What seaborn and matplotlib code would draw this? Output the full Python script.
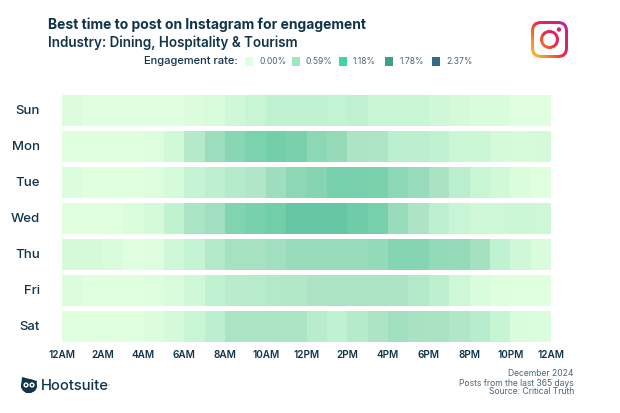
import numpy as np
import pandas as pd
import matplotlib
matplotlib.use("Agg")
import matplotlib.pyplot as plt
import seaborn as sns
from matplotlib.colors import LinearSegmentedColormap
from matplotlib.patches import Circle, Ellipse, FancyBboxPatch, Polygon, Rectangle
from matplotlib.transforms import ScaledTranslation

days = ["Sun", "Mon", "Tue", "Wed", "Thu", "Fri", "Sat"]
hour_labels = ["12AM", "2AM", "4AM", "6AM", "8AM", "10AM", "12PM", "2PM",
               "4PM", "6PM", "8PM", "10PM", "12AM"]

# engagement rate (%) per hour
sun = [.05, 0, 0, 0, 0, 0, .05, .09, .17, .22, .30, .30, .30, .27, .32, .22, .22, .22, .16, .12, .08, .07, 0, 0]
mon = [0, 0, 0, 0, .03, .15, .43, .64, .80, .89, .96, .92, .76, .70, .50, .49, .37, .35, .31, .20, .20, .12, .10, .12]
tue = [.05, 0, 0, 0, .03, .10, .25, .33, .42, .47, .63, .76, .82, .93, .92, .90, .77, .69, .53, .37, .22, .15, .06, .01]
wed = [0, 0, 0, .06, .12, .30, .52, .62, .85, .92, .98, 1.08, 1.08, 1.08, 1.00, .93, .68, .50, .33, .23, .18, .18, .20, .18]
thu = [.12, .12, .07, .01, .03, .17, .25, .45, .57, .57, .62, .68, .68, .68, .68, .72, .82, .82, .72, .70, .58, .30, .17, .07]
fri = [.05, 0, 0, 0, .03, .09, .16, .30, .38, .40, .44, .46, .50, .52, .52, .52, .50, .45, .34, .18, .07, .02, 0, 0]
sat = [0, 0, 0, 0, .05, .12, .22, .35, .52, .52, .52, .52, .38, .30, .42, .50, .62, .55, .53, .47, .38, .24, .07, .04]

legend_values = [0.00, 0.59, 1.18, 1.78, 2.37]
legend_colors = ["#e0ffdf", "#9de9bf", "#3fd6a0", "#3f9e8e", "#2f6c85"]

DARK = "#10344a"
GREY = "#4c6675"
plt.rcParams["font.family"] = ["Inter", "DejaVu Sans"]

rates = pd.DataFrame([sun, mon, tue, wed, thu, fri, sat], index=days)
# cells come out duller than the legend swatches in the middle of the range
cmap = LinearSegmentedColormap.from_list("engagement", [
    (0, "#e0ffdf"), (.3 / 2.37, "#bff2d1"), (.5 / 2.37, "#aee4c6"), (.75 / 2.37, "#8fd8b6"),
    (.96 / 2.37, "#72cfaa"), (1.08 / 2.37, "#66c6a4"), (1.78 / 2.37, "#3f9e8e"), (1, "#2f6c85")])

fig = plt.figure(figsize=(6.2, 4.13), dpi=100)

# heatmap area in pixels: rows repeat every 36px, 5px of it is the white gap
ax = fig.add_axes([62 / 620, 1 - 343.5 / 413, 489 / 620, 252 / 413])
sns.heatmap(rates, ax=ax, cmap=cmap, vmin=0, vmax=2.37, cbar=False,
            linewidths=0, xticklabels=False)
ax.hlines(range(8), 0, 24, color="white", lw=3.6, clip_on=True)
ax.set_ylabel("")
ax.set_xticks(np.arange(0, 25, 2))
ax.set_xticklabels(hour_labels, fontsize=7.2, fontweight="semibold", color=DARK)
ax.set_yticklabels(days, rotation=0, fontsize=9.5, fontweight="medium", color=DARK)
ax.tick_params(length=0)
ax.tick_params(axis="x", pad=4.5)
ax.tick_params(axis="y", pad=16)
for lab in ax.get_yticklabels():
    lab.set_transform(lab.get_transform() + ScaledTranslation(0, -2 / 100, fig.dpi_scale_trans))

# overlay in pixel coordinates for titles, legend and logos
over = fig.add_axes([0, 0, 1, 1], facecolor="none")
over.set_xlim(0, 620)
over.set_ylim(413, 0)
over.axis("off")

over.text(48, 24.5, "Best time to post on Instagram for engagement", fontsize=10,
          fontweight="bold", color=DARK, va="center")
over.text(48, 42.5, "Industry: Dining, Hospitality & Tourism", fontsize=9.7,
          fontweight="semibold", color=DARK, va="center")

over.text(238, 61, "Engagement rate:", fontsize=8, fontweight="medium", color=DARK,
          va="center", ha="right")
for i, (val, col) in enumerate(zip(legend_values, legend_colors)):
    x = 245 + i * 46.8
    over.add_patch(Rectangle((x, 57), 8, 9, color=col, lw=0))
    over.text(x + 14, 61.5, f"{val:.2f}%", fontsize=6.2, color=GREY, va="center")

over.text(574, 373, "December 2024", fontsize=6.2, color=GREY, ha="right", va="center")
over.text(574, 383, "Posts from the last 365 days", fontsize=6.2, color=GREY, ha="right", va="center")
over.text(574, 392, "Source: Critical Truth", fontsize=6.2, color=GREY, ha="right", va="center")

# instagram icon
grad = np.linspace(0, 1, 64)
gx, gy = np.meshgrid(grad, grad)
insta = LinearSegmentedColormap.from_list(
    "insta", ["#fdc52e", "#f8862c", "#ee2a3f", "#d81f7c", "#a42bc0"])


def gradient_patch(patch):
    over.add_patch(patch)
    im = over.imshow((gx * 0.55 + (1 - gy) * 0.45), cmap=insta, vmin=0, vmax=1,
                     extent=(531, 568, 58, 21), aspect="auto", origin="upper", zorder=patch.get_zorder())
    im.set_clip_path(patch)


gradient_patch(FancyBboxPatch((531 + 9, 21 + 9), 19, 19, boxstyle="round,pad=9,rounding_size=10", lw=0, fc="none", zorder=3))
over.add_patch(FancyBboxPatch((534 + 7, 24 + 7), 17, 17, boxstyle="round,pad=7,rounding_size=7", lw=0, fc="white", zorder=4))
gradient_patch(Circle((549.5, 39.5), 9.5, lw=0, fc="none", zorder=5))
over.add_patch(Circle((549.5, 39.5), 6.5, lw=0, fc="white", zorder=6))
gradient_patch(Circle((559, 29.5), 2.2, lw=0, fc="none", zorder=7))

# hootsuite logo
over.add_patch(Polygon([(22, 377), (37, 381), (36, 387), (31, 393), (26, 393), (21, 387)], fc=DARK, lw=0))
over.add_patch(Ellipse((29, 386), 16, 14, fc=DARK, lw=0))
for ex in (26, 32):
    over.add_patch(Circle((ex, 385), 2.6, fc="white", lw=0))
    over.add_patch(Circle((ex, 385), 1.1, fc=DARK, lw=0))
over.text(41, 385.5, "Hootsuite", fontsize=10.6, fontweight="medium", color=DARK, va="center")
over.add_patch(Circle((109, 385), 0.7, fc="#c98a9a", lw=0))
over.set_xlim(0, 620)
over.set_ylim(413, 0)

fig.savefig("out.png", dpi=100, facecolor="white")
